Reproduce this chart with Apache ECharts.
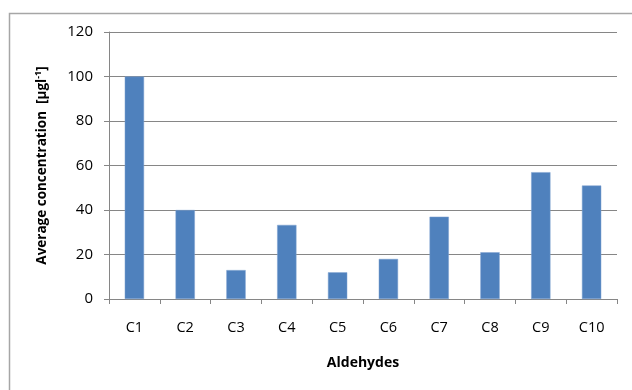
<!DOCTYPE html>
<html>
<head>
<meta charset="utf-8">
<script src="https://cdn.jsdelivr.net/npm/echarts@6/dist/echarts.min.js"></script>
<style>
  html, body { margin: 0; padding: 0; background: #fff; }
  #chart { width: 632px; height: 390px; }
</style>
</head>
<body>
<div id="chart"></div>
<script>
// Aldehyde categories and their average concentrations (µg/l)
const categories = ['C1', 'C2', 'C3', 'C4', 'C5', 'C6', 'C7', 'C8', 'C9', 'C10'];
const concentrations = [100, 40, 13, 33.3, 12, 18, 37, 21, 57, 51];
const yTicks = { min: 0, max: 120, interval: 20 };

const font = '"Open Sans", Lato, sans-serif';
const gridColor = '#868686';

const chart = echarts.init(document.getElementById('chart'), null, { renderer: 'canvas' });

chart.setOption({
  animation: false,
  backgroundColor: '#ffffff',
  graphic: [{
    type: 'rect',
    shape: { x: 9.5, y: 13.5, width: 700, height: 500 },
    style: { fill: 'none', stroke: '#a6a6a6', lineWidth: 1.5 },
    silent: true
  }],
  grid: { left: 109, right: 15, top: 32, bottom: 91, containLabel: false },
  xAxis: {
    type: 'category',
    data: categories,
    name: 'Aldehydes',
    nameLocation: 'middle',
    nameGap: 57,
    nameTextStyle: { fontFamily: font, fontWeight: 'bold', fontSize: 14, color: '#000' },
    axisLine: { lineStyle: { color: gridColor, width: 1 } },
    axisTick: { show: true, length: 5, alignWithLabel: false, lineStyle: { color: gridColor } },
    axisLabel: { fontFamily: font, fontSize: 14.5, color: '#000', margin: 21 },
    splitLine: { show: false }
  },
  yAxis: {
    type: 'value',
    min: yTicks.min,
    max: yTicks.max,
    interval: yTicks.interval,
    name: '{b|Average concentration  [µgl}{sup|-1}{b|]}',
    nameLocation: 'middle',
    nameGap: 58,
    nameRotate: 90,
    nameTextStyle: {
      rich: {
        b: { fontFamily: font, fontWeight: 'bold', fontSize: 13.5, color: '#000' },
        sup: { fontFamily: font, fontWeight: 'bold', fontSize: 9, color: '#000', verticalAlign: 'top', padding: [0, 0, 8, 0] }
      }
    },
    axisLine: { show: true, lineStyle: { color: gridColor, width: 1 } },
    axisTick: { show: true, length: 5, lineStyle: { color: gridColor } },
    axisLabel: { fontFamily: font, fontSize: 15, color: '#000', margin: 16 },
    splitLine: { show: true, lineStyle: { color: gridColor, width: 1 } }
  },
  series: [{
    type: 'bar',
    data: concentrations,
    barWidth: '38%',
    itemStyle: { color: '#4f81bd', borderColor: '#7fa3d0', borderWidth: 0.5 }
  }]
});
</script>
</body>
</html>
